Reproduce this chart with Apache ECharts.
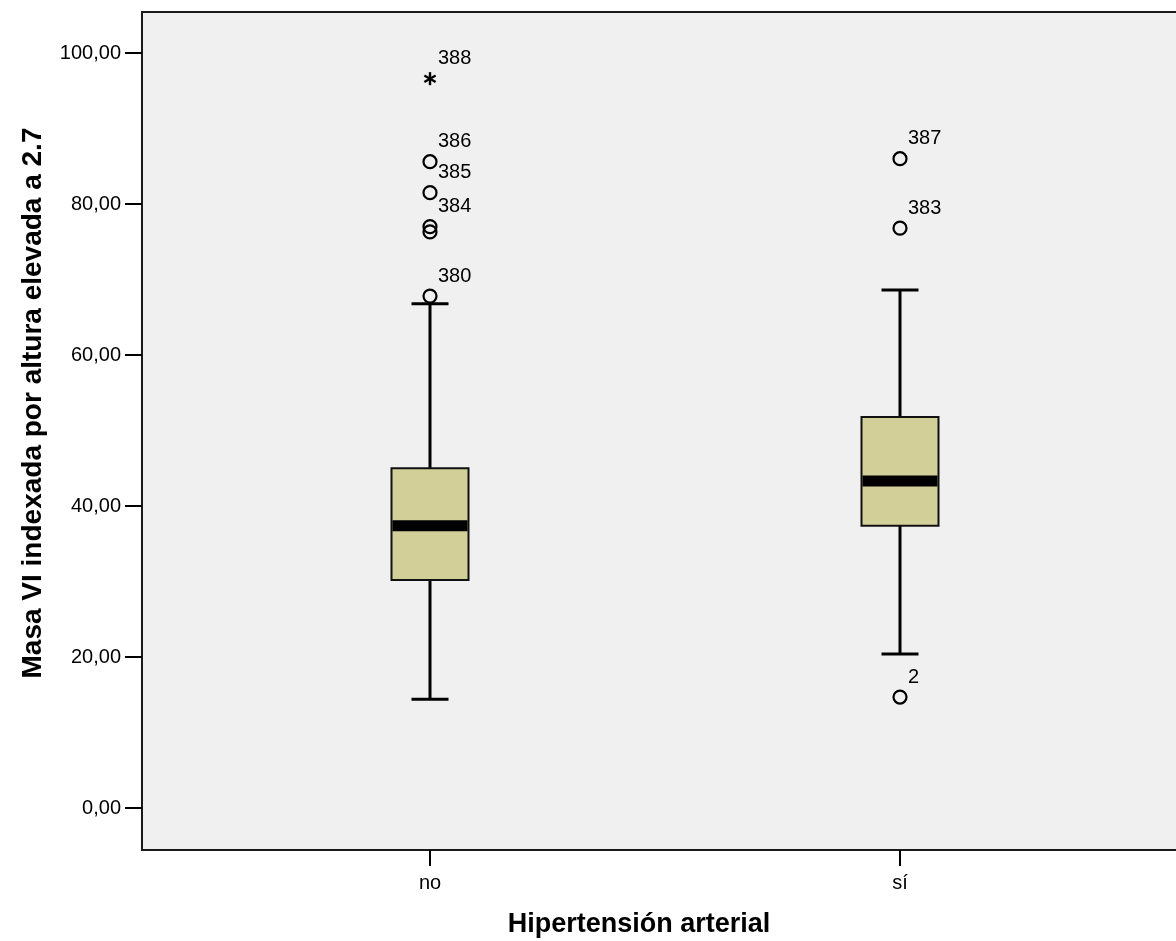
<!DOCTYPE html>
<html>
<head>
<meta charset="utf-8">
<script src="https://cdn.jsdelivr.net/npm/echarts@6/dist/echarts.min.js"></script>
<style>
html,body{margin:0;padding:0;background:#fff;}
#chart{width:1176px;height:941px;}
</style>
</head>
<body>
<div id="chart"></div>
<script>
// ---- data ----
const categories = ['no', 'sí'];
const catPositions = [1, 2];
const whiskerLow = [14.4, 20.4];
const q1 = [30.2, 37.4];
const median = [37.4, 43.3];
const q3 = [45.0, 51.8];
const whiskerHigh = [66.8, 68.6];
// outliers: category index, value, case label, kind (o = circle, e = extreme/star)
const outlierCat = [0, 0, 0, 0, 0, 0, 1, 1, 1];
const outlierVal = [96.6, 85.6, 81.5, 77.0, 76.3, 67.8, 86.0, 76.8, 14.7];
const outlierLabel = ['388', '386', '385', '384', '', '380', '387', '383', '2'];
const outlierKind = ['e', 'o', 'o', 'o', 'o', 'o', 'o', 'o', 'o'];
const yTicks = [0, 20, 40, 60, 80, 100];
const xTitle = 'Hipertensión arterial';
const yTitle = 'Masa VI indexada por altura elevada a 2.7';

const boxData = categories.map((c, i) => [catPositions[i], whiskerLow[i], q1[i], median[i], q3[i], whiskerHigh[i]]);
const outData = outlierVal.map((v, i) => [catPositions[outlierCat[i]], v, outlierLabel[i], outlierKind[i]]);

const FONT = '"Liberation Sans", Arial, sans-serif';

const chart = echarts.init(document.getElementById('chart'), null, {renderer: 'canvas'});

function renderBox(params, api) {
  const x = api.value(0);
  const wl = api.coord([x, api.value(1)]);
  const b1 = api.coord([x, api.value(2)]);
  const md = api.coord([x, api.value(3)]);
  const b3 = api.coord([x, api.value(4)]);
  const wh = api.coord([x, api.value(5)]);
  const cx = wl[0];
  const halfW = 38.5, capHalf = 18.5;
  const lineStyle = {stroke: '#000', lineWidth: 3};
  return {
    type: 'group',
    children: [
      {type: 'line', shape: {x1: cx, y1: wh[1], x2: cx, y2: b3[1]}, style: lineStyle},
      {type: 'line', shape: {x1: cx, y1: b1[1], x2: cx, y2: wl[1]}, style: lineStyle},
      {type: 'line', shape: {x1: cx - capHalf, y1: wh[1], x2: cx + capHalf, y2: wh[1]}, style: lineStyle},
      {type: 'line', shape: {x1: cx - capHalf, y1: wl[1], x2: cx + capHalf, y2: wl[1]}, style: lineStyle},
      {type: 'rect', shape: {x: cx - halfW, y: b3[1], width: 2 * halfW, height: b1[1] - b3[1]},
        style: {fill: '#d3cf99', stroke: '#111', lineWidth: 2}},
      {type: 'rect', shape: {x: cx - halfW + 1, y: md[1] - 5.5, width: 2 * halfW - 2, height: 11},
        style: {fill: '#000'}}
    ]
  };
}

function renderOutlier(params, api) {
  const x = api.value(0);
  const p = api.coord([x, api.value(1)]);
  const label = outData[params.dataIndex][2];
  const kind = outData[params.dataIndex][3];
  const children = [];
  if (kind === 'e') {
    const r = 6.5;
    const st = {stroke: '#000', lineWidth: 2.4};
    for (let k = 0; k < 3; k++) {
      const a = Math.PI / 2 + k * Math.PI / 3;
      children.push({type: 'line', shape: {x1: p[0] - r * Math.cos(a), y1: p[1] - r * Math.sin(a), x2: p[0] + r * Math.cos(a), y2: p[1] + r * Math.sin(a)}, style: st});
    }
  } else {
    children.push({type: 'circle', shape: {cx: p[0], cy: p[1], r: 6.5}, style: {fill: 'none', stroke: '#000', lineWidth: 2.2}});
  }
  if (label) {
    children.push({type: 'text', x: p[0] + 8, y: p[1] - 20,
      style: {text: label, fill: '#000', font: '20px ' + FONT, textAlign: 'left', textVerticalAlign: 'middle'}});
  }
  return {type: 'group', children: children};
}

const xMin = 1 - 288 / 470;
const xMax = xMin + 1044 / 470;

chart.setOption({
  animation: false,
  backgroundColor: '#ffffff',
  grid: {left: 142, top: 12, right: -10, bottom: 91, outerBoundsMode: 'none', containLabel: false,
    show: true, backgroundColor: '#f0f0f0', borderColor: '#1a1a1a', borderWidth: 2},
  xAxis: {
    type: 'value', min: xMin, max: xMax,
    axisLine: {show: false, onZero: false},
    splitLine: {show: false},
    axisTick: {show: true, customValues: catPositions, length: 16, lineStyle: {color: '#000', width: 2}},
    axisLabel: {customValues: catPositions, margin: 23, color: '#000', fontSize: 20, fontFamily: FONT,
      formatter: v => categories[catPositions.indexOf(Math.round(v))] || ''}
  },
  yAxis: {
    type: 'value', min: -5.56, max: 105.43,
    axisLine: {show: false, onZero: false},
    splitLine: {show: false},
    axisTick: {show: true, customValues: yTicks, length: 17, lineStyle: {color: '#000', width: 2}},
    axisLabel: {customValues: yTicks, margin: 21, color: '#000', fontSize: 20, fontFamily: FONT,
      formatter: v => v.toFixed(2).replace('.', ',')}
  },
  graphic: [
    {type: 'text', x: 639, y: 925, style: {text: xTitle, font: 'bold 27px ' + FONT, fill: '#000', textAlign: 'center', textVerticalAlign: 'middle'}},
    {type: 'text', x: 33, y: 403, rotation: Math.PI / 2, style: {text: yTitle, font: 'bold 28px ' + FONT, fill: '#000', textAlign: 'center', textVerticalAlign: 'middle'}}
  ],
  series: [
    {type: 'custom', renderItem: renderBox, data: boxData, encode: {x: 0, y: [1, 2, 3, 4, 5]}, clip: false, z: 2},
    {type: 'custom', renderItem: renderOutlier, data: outData.map(d => [d[0], d[1]]), encode: {x: 0, y: 1}, clip: false, z: 3}
  ]
});
</script>
</body>
</html>
